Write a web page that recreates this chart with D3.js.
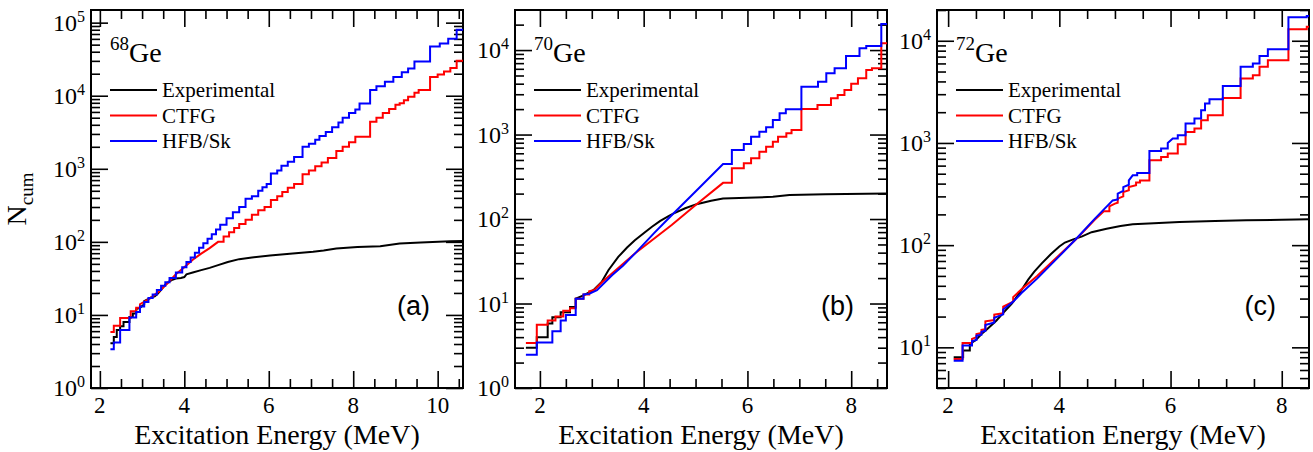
<!DOCTYPE html>
<html lang="en">
<head>
<meta charset="UTF-8" />
<title>Cumulative number of levels in 68,70,72Ge</title>
<script src="https://d3js.org/d3.v7.min.js"></script>
<style>
  body { margin: 0; background: #fff; }
</style>
</head>
<body>
<svg id="chart" width="1313" height="452"></svg>
<script>
// -----------------------------
// 1. Data
// -----------------------------
const seriesNames = ["Experimental", "CTFG", "HFB/Sk"];
const seriesColors = ["#000000", "#ff0000", "#0000ff"];
const massNumbers = ["68", "70", "72"];
const panelTags = ["(a)", "(b)", "(c)"];
const xTickLabels = [[2, 4, 6, 8, 10], [2, 4, 6, 8], [2, 4, 6, 8]];
const yTickLabels = [[1, 10, 100, 1e3, 1e4, 1e5], [1, 10, 100, 1e3, 1e4], [10, 100, 1e3, 1e4]];
const xDomains = [[1.79, 10.6], [1.52, 8.69], [1.8, 8.49]];
const yDomains = [[1, 149000], [1, 29800], [4, 20000]];

// 68Ge : [E (MeV), N_cum]
const ge68Exp = [[2.25,4.1],[2.33,4.1],[2.33,5],[2.40,5],[2.40,6.2],[2.48,6.2],[2.48,7],[2.56,7],[2.56,8],[2.70,8],[2.70,9.4],[2.78,9.4],[2.78,10.5],[2.86,10.5],[2.86,12],[2.95,12.5],[3.05,14],[3.05,15.5],[3.14,16.5],[3.22,17.5],[3.3,18],[3.37,19.5],[3.45,22],[3.55,26],[3.62,28],[3.7,30],[3.8,31.5],[3.92,32],[4.0,33],[4.05,36],[4.2,38],[4.4,41],[4.6,44],[4.8,48],[5.03,53],[5.3,58],[5.6,61],[6.03,65],[6.5,69],[7.05,73],[7.3,76],[7.6,81],[8.1,85],[8.64,87],[9.1,95],[9.6,98],[10.3,102],[10.6,103]];
const ge68Ctfg = [[2.25,5.85],[2.33,5.85],[2.33,7.1],[2.48,7.1],[2.48,9.1],[2.73,9.1],[2.73,11.2],[2.86,11.2],[2.86,12.5],[2.95,12.5],[2.95,14],[3.2,17],[3.4,21],[3.6,27],[3.8,36],[4.0,45],[4.2,57],[4.4,69],[4.6,82],[4.8,100],[4.93,100],[4.93,118],[5.06,118],[5.06,135],[5.18,135],[5.18,155],[5.3,155],[5.3,175],[5.45,175],[5.45,200],[5.6,200],[5.6,235],[5.75,235],[5.75,270],[5.9,270],[5.9,300],[6.05,300],[6.05,375],[6.2,375],[6.2,420],[6.32,420],[6.32,480],[6.45,480],[6.45,550],[6.6,550],[6.6,620],[6.8,620],[6.8,840],[6.95,840],[6.95,950],[7.1,950],[7.1,1080],[7.25,1080],[7.25,1220],[7.4,1220],[7.4,1400],[7.6,1400],[7.6,1750],[7.75,1750],[7.75,2000],[7.9,2000],[7.9,2300],[8.05,2300],[8.05,2750],[8.4,2750],[8.4,4400],[8.55,4400],[8.55,5000],[8.7,5000],[8.7,5800],[8.85,5800],[8.85,6600],[9.0,6600],[9.0,7500],[9.1,7500],[9.1,7900],[9.2,7900],[9.2,8700],[9.3,8700],[9.3,9700],[9.45,9700],[9.45,11000],[9.55,11000],[9.55,12000],[9.82,12000],[9.82,18000],[10.0,18000],[10.0,19500],[10.15,19500],[10.15,21500],[10.3,21500],[10.3,24000],[10.45,24000],[10.45,30000],[10.6,30000]];
const ge68Hfb = [[2.25,3.4],[2.33,3.4],[2.33,4.2],[2.48,4.2],[2.48,6.2],[2.70,6.2],[2.70,9.2],[2.86,9.2],[2.86,11],[2.95,11],[2.95,13],[3.05,13],[3.05,15],[3.15,15],[3.15,17],[3.25,17],[3.25,19],[3.35,19],[3.35,22],[3.45,22],[3.45,25],[3.55,25],[3.55,28],[3.65,28],[3.65,32],[3.8,32],[3.8,38],[3.95,38],[3.95,45],[4.05,45],[4.05,53],[4.15,53],[4.15,61],[4.25,61],[4.25,71],[4.35,71],[4.35,83],[4.45,83],[4.45,96],[4.55,96],[4.55,110],[4.65,110],[4.65,127],[4.75,127],[4.75,148],[4.85,148],[4.85,172],[5.0,172],[5.0,210],[5.15,210],[5.15,255],[5.3,255],[5.3,300],[5.45,300],[5.45,390],[5.6,390],[5.6,420],[5.75,420],[5.75,500],[5.85,500],[5.85,560],[5.95,560],[5.95,620],[6.05,620],[6.05,860],[6.2,860],[6.2,950],[6.3,950],[6.3,1100],[6.45,1100],[6.45,1250],[6.6,1250],[6.6,1450],[6.8,1450],[6.8,2000],[6.95,2000],[6.95,2200],[7.1,2200],[7.1,2500],[7.2,2500],[7.2,2800],[7.35,2800],[7.35,3200],[7.5,3200],[7.5,3700],[7.65,3700],[7.65,4300],[7.75,4300],[7.75,5000],[7.9,5000],[7.9,5800],[8.05,5800],[8.05,6500],[8.15,6500],[8.15,7800],[8.4,7800],[8.4,12000],[8.55,12000],[8.55,13500],[8.75,13500],[8.75,15500],[8.95,15500],[8.95,18000],[9.15,18000],[9.15,21000],[9.3,21000],[9.3,23500],[9.45,23500],[9.45,29500],[9.82,29500],[9.82,47000],[10.05,47000],[10.05,52000],[10.25,52000],[10.25,60000],[10.45,60000],[10.45,80000],[10.6,80000]];

// 70Ge
const ge70Exp = [[1.73,3.0],[1.94,3.0],[1.94,4.0],[2.15,4.0],[2.15,5.8],[2.24,5.8],[2.24,6.9],[2.4,6.9],[2.4,7.9],[2.58,7.9],[2.58,9.1],[2.69,9.1],[2.69,11.4],[2.84,12.5],[3.03,14.4],[3.19,18],[3.32,24.8],[3.51,35.6],[3.68,46],[3.83,56],[4.0,68],[4.16,81],[4.32,95],[4.48,108],[4.57,116],[4.8,134],[5.02,150],[5.3,165],[5.53,175],[6.0,179],[6.49,183],[6.81,192],[7.5,196],[8.69,201]];
const ge70Ctfg = [[1.73,3.4],[1.94,3.4],[1.94,5.6],[2.15,5.6],[2.15,6.3],[2.3,6.3],[2.3,7.0],[2.45,7.0],[2.45,8.2],[2.58,8.2],[2.58,8.8],[2.69,8.8],[2.69,11.4],[2.84,11.4],[2.84,12.8],[2.95,12.8],[2.95,14],[3.05,14.5],[3.2,18],[3.83,39],[4.54,85],[5.02,150],[5.53,268],[5.70,268],[5.70,398],[5.93,398],[5.93,456],[6.07,456],[6.07,523],[6.23,523],[6.23,625],[6.36,625],[6.36,717],[6.49,717],[6.49,822],[6.59,822],[6.59,942],[6.75,942],[6.75,1033],[6.85,1033],[6.85,1131],[7.04,1131],[7.04,2005],[7.35,2005],[7.35,2240],[7.61,2240],[7.61,2685],[7.74,2685],[7.74,2940],[7.87,2940],[7.87,3365],[8.0,3365],[8.0,4000],[8.13,4000],[8.13,4635],[8.29,4635],[8.29,5810],[8.4,5810],[8.4,6085],[8.58,6085],[8.58,12030],[8.69,12030]];
const ge70Hfb = [[1.73,2.48],[1.94,2.48],[1.94,3.45],[2.24,3.45],[2.24,4.7],[2.4,4.7],[2.4,6.3],[2.5,6.3],[2.5,7.3],[2.69,7.3],[2.69,11.4],[2.84,11.4],[2.84,12.8],[2.95,13],[3.1,14.4],[3.39,21.6],[3.6,28],[3.83,39],[4.2,68],[4.54,111],[5.0,212],[5.53,447],[5.70,447],[5.70,655],[5.93,655],[5.93,771],[6.07,771],[6.07,942],[6.23,942],[6.23,1080],[6.36,1080],[6.36,1217],[6.49,1217],[6.49,1486],[6.62,1486],[6.62,1783],[6.74,1783],[6.74,1990],[7.04,1990],[7.04,3680],[7.36,3680],[7.36,4230],[7.52,4230],[7.52,5310],[7.68,5310],[7.68,6090],[7.9,6090],[7.9,8500],[8.16,8500],[8.16,10500],[8.29,10500],[8.29,11200],[8.58,11200],[8.58,20300],[8.69,20300]];

// 72Ge
const ge72Exp = [[2.10,8.0],[2.27,8.0],[2.27,9.3],[2.39,9.3],[2.39,10.8],[2.5,11.8],[2.6,13.5],[2.7,15],[2.87,18.3],[3.0,22],[3.15,27],[3.3,35],[3.44,46],[3.55,55],[3.68,66],[3.85,82],[4.0,97],[4.1,106],[4.25,114],[4.4,121],[4.58,134],[4.85,145],[5.1,154],[5.32,160],[5.7,164],[6.16,168],[6.8,172],[7.36,175],[8.0,177],[8.49,179]];
const ge72Ctfg = [[2.10,7.7],[2.26,7.7],[2.26,11],[2.43,11],[2.43,12.1],[2.51,12.6],[2.51,13.5],[2.6,13.8],[2.6,14.8],[2.67,15],[2.67,18],[2.83,18.5],[2.83,20.9],[2.99,21.5],[2.99,25],[3.17,28],[3.17,31],[3.32,37],[3.6,50],[4.0,80],[4.3,114],[4.64,178],[4.8,215],[4.9,215],[4.9,240],[5.0,255],[5.05,260],[5.05,285],[5.15,300],[5.15,330],[5.25,345],[5.25,370],[5.38,385],[5.38,410],[5.45,410],[5.45,430],[5.62,430],[5.62,676],[5.83,676],[5.83,730],[5.95,730],[5.95,787],[6.13,787],[6.13,971],[6.27,971],[6.27,1283],[6.43,1283],[6.43,1385],[6.55,1385],[6.55,1667],[6.67,1667],[6.67,1864],[6.94,1864],[6.94,2760],[7.26,2760],[7.26,4280],[7.48,4280],[7.48,4610],[7.6,4610],[7.6,5560],[7.75,5560],[7.75,6460],[8.12,6460],[8.12,12950],[8.45,12950],[8.45,13700],[8.49,13700]];
const ge72Hfb = [[2.10,7.4],[2.26,7.4],[2.26,10.4],[2.43,10.4],[2.43,11.5],[2.51,11.8],[2.51,13],[2.6,13.3],[2.6,14.2],[2.67,14.5],[2.67,16.5],[2.83,17.5],[2.83,19.5],[2.99,21],[2.99,23.5],[3.17,28],[3.32,34],[3.6,47],[4.0,78],[4.3,115],[4.64,182],[4.96,274],[5.05,280],[5.05,320],[5.15,340],[5.15,370],[5.25,390],[5.25,430],[5.32,482],[5.4,482],[5.4,508],[5.62,508],[5.62,835],[5.83,835],[5.83,881],[5.95,881],[5.95,1000],[6.04,1104],[6.13,1104],[6.13,1190],[6.27,1190],[6.27,1550],[6.43,1550],[6.43,1735],[6.55,1735],[6.55,2090],[6.62,2090],[6.62,2430],[6.7,2430],[6.7,2680],[6.94,2680],[6.94,3600],[7.26,3600],[7.26,5560],[7.48,5560],[7.48,6000],[7.6,6000],[7.6,7080],[7.75,7080],[7.75,8240],[8.12,8240],[8.12,17000],[8.45,17000],[8.45,17500],[8.49,17500]];

const panelSeries = [
  [ge68Exp, ge68Ctfg, ge68Hfb],
  [ge70Exp, ge70Ctfg, ge70Hfb],
  [ge72Exp, ge72Ctfg, ge72Hfb]
];

// -----------------------------
// 2. Layout
// -----------------------------
const serif = "'Liberation Serif', 'Times New Roman', Times, serif";
const sans = "'Liberation Sans', Arial, Helvetica, sans-serif";
const svg = d3.select("#chart");
const panelLefts = [91, 515, 937];
const plotW = 372;
const plotTop = 10, plotBottom = 388;
const plotH = plotBottom - plotTop;

const addText = (sel, size, family) =>
  sel.append("text").attr("font-family", family || serif).attr("font-size", size).attr("fill", "#000");

panelLefts.forEach((left, p) => {
  const g = svg.append("g").attr("transform", `translate(${left},${plotTop})`);

  const x = d3.scaleLinear().domain(xDomains[p]).range([0, plotW]);
  const y = d3.scaleLog().domain(yDomains[p]).range([plotH, 0]);

  // minor ticks: every 0.5 MeV on x, 2..9 per decade on y
  const xMinor = d3.range(Math.ceil(xDomains[p][0] * 2) / 2, xDomains[p][1], 0.5)
    .filter(v => Math.abs(v - Math.round(v / 2) * 2) > 1e-6);
  const xMajor = d3.range(2, xDomains[p][1] + 1e-6, 2);
  const yAll = y.ticks();
  const yMajor = yAll.filter(v => Math.abs(Math.log10(v) - Math.round(Math.log10(v))) < 1e-6);
  const yMinor = yAll.filter(v => !yMajor.includes(v));

  const tickAxis = (axisFn, scale, vals, size, tx, ty) => {
    const a = g.append("g").attr("transform", `translate(${tx},${ty})`)
      .call(axisFn(scale).tickValues(vals).tickSize(size).tickFormat(""));
    a.select(".domain").remove();
    a.selectAll("line").attr("stroke", "#000").attr("stroke-width", 1.6);
  };
  // ticks point inward on all four sides
  tickAxis(d3.axisTop, x, xMajor, 17, 0, plotH);
  tickAxis(d3.axisTop, x, xMinor, 9, 0, plotH);
  tickAxis(d3.axisBottom, x, xMajor, 17, 0, 0);
  tickAxis(d3.axisBottom, x, xMinor, 9, 0, 0);
  tickAxis(d3.axisRight, y, yMajor, 17, 0, 0);
  tickAxis(d3.axisRight, y, yMinor, 9, 0, 0);
  tickAxis(d3.axisLeft, y, yMajor, 17, plotW, 0);
  tickAxis(d3.axisLeft, y, yMinor, 9, plotW, 0);

  // frame
  g.append("rect").attr("width", plotW).attr("height", plotH)
    .attr("fill", "none").attr("stroke", "#000").attr("stroke-width", 2);

  // x tick labels
  xTickLabels[p].forEach(v => {
    addText(g, 23).attr("x", x(v)).attr("y", plotH + 25)
      .attr("text-anchor", "middle").text(v);
  });

  // y tick labels as 10^n
  yTickLabels[p].forEach(v => {
    const t = addText(g, 24).attr("x", -6).attr("y", y(v) + 8).attr("text-anchor", "end");
    t.append("tspan").text("10");
    t.append("tspan").attr("dy", -9).attr("font-size", 16).text(Math.round(Math.log10(v)));
  });

  // x axis title
  addText(g, 28).attr("x", plotW / 2).attr("y", plotH + 56)
    .attr("text-anchor", "middle").text("Excitation Energy (MeV)");

  // curves
  const clipId = "clip" + p;
  g.append("clipPath").attr("id", clipId)
    .append("rect").attr("width", plotW).attr("height", plotH);
  const line = d3.line().x(d => x(d[0])).y(d => y(d[1]));
  panelSeries[p].forEach((s, i) => {
    g.append("path").datum(s)
      .attr("clip-path", `url(#${clipId})`)
      .attr("fill", "none").attr("stroke", seriesColors[i])
      .attr("stroke-width", 2).attr("d", line);
  });

  // nucleus label
  const nuc = addText(g, 28).attr("x", 19).attr("y", 52);
  nuc.append("tspan").attr("font-size", 19).attr("dy", -12).text(massNumbers[p]);
  nuc.append("tspan").attr("dy", 12).text("Ge");

  // legend
  seriesNames.forEach((name, i) => {
    const ly = 80 + i * 25.5;
    g.append("line").attr("x1", 19).attr("x2", 66).attr("y1", ly).attr("y2", ly)
      .attr("stroke", seriesColors[i]).attr("stroke-width", 2);
    addText(g, 21).attr("x", 71).attr("y", ly + 7).text(name);
  });

  // panel tag
  addText(g, 27, sans).attr("x", plotW - 33).attr("y", 305)
    .attr("text-anchor", "end").text(panelTags[p]);
});

// y axis title
const yTitle = addText(svg, 28).attr("transform", "translate(26,199) rotate(-90)")
  .attr("text-anchor", "middle");
yTitle.append("tspan").text("N");
yTitle.append("tspan").attr("dy", 7).attr("font-size", 19).text("cum");
</script>
</body>
</html>
